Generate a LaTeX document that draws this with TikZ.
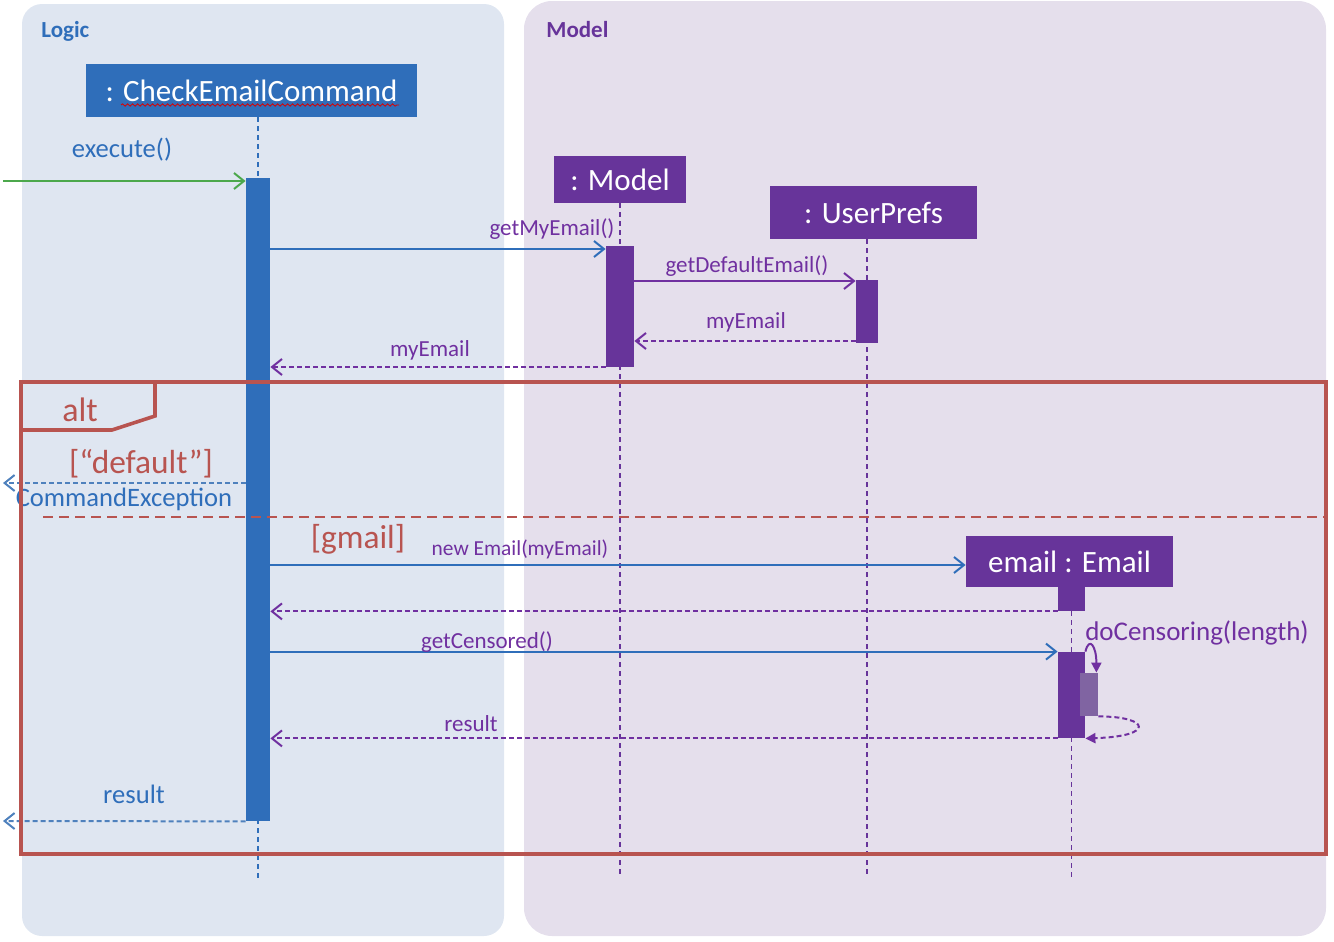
\documentclass[tikz,border=0pt]{standalone}
\usepackage{fontspec}
\setmainfont{Carlito}
\usetikzlibrary{arrows.meta,fit,backgrounds,decorations.pathmorphing}
\definecolor{logicblue}{RGB}{47,110,186}
\definecolor{modelpurple}{RGB}{103,52,154}
\definecolor{msgpurple}{RGB}{112,48,160}
\definecolor{altred}{RGB}{184,84,80}
\definecolor{logicbg}{RGB}{223,230,241}
\definecolor{modelbg}{RGB}{229,223,236}
\definecolor{foundgreen}{RGB}{76,168,76}
\definecolor{exitblue}{RGB}{79,129,189}
\definecolor{nestpurple}{RGB}{128,100,162}
\begin{document}
\begin{tikzpicture}[
		x=0.5pt, y=-0.5pt,
		obj/.style={
				fill=#1,
				text=white,
				inner sep=0,
				font=\fontsize{15.5}{18}\selectfont
			},
		act/.style={fill=#1, inner sep=0},
		life/.style={draw=#1, line width=0.9pt, dash pattern=on 2.5pt off 2pt},
		call/.style={draw=#1, line width=1pt, -{Straight Barb[length=5pt,width=8pt]}},
		ret/.style={call=#1, dash pattern=on 2.5pt off 1.5pt},
		msg/.style={text=msgpurple, font=\fontsize{11.5}{13}\selectfont},
		bmsg/.style={text=logicblue, font=\fontsize{13.3}{15}\selectfont},
		guard/.style={text=altred, font=\fontsize{16.7}{19}\selectfont},
		pkg/.style={text=#1, anchor=west, inner sep=0, font=\bfseries\fontsize{11.5}{13}\selectfont}
	]
	\useasboundingbox (0,0) rectangle (1334,942);

	% objects
	\node[obj=logicblue, minimum width=165.5pt, minimum height=26.5pt] (cmd) at (251.5,90.5) {: CheckEmailCommand};
	\node[obj=modelpurple, minimum width=66pt, minimum height=23.5pt] (model) at (620,179.5) {: Model};
	\node[obj=modelpurple, minimum width=103.5pt, minimum height=26.5pt] (prefs) at (873.5,212.5) {: UserPrefs};
	\node[obj=modelpurple, minimum width=103.5pt, minimum height=25.5pt] (email) at (1069.5,561.5) {email : Email};
	\draw[red!85!black, line width=0.4pt, decorate, decoration={snake, amplitude=0.6pt, segment length=2.5pt}]
		(121,105) -- (399,105);

	% activations
	\node[act=logicblue, fit={(246,178) (270,821)}] (cmdact) {};
	\node[act=modelpurple, fit={(606,246) (634,367)}] (modelact) {};
	\node[act=modelpurple, fit={(856,280) (878,343)}] (prefsact) {};
	\node[act=modelpurple, fit={(1058,587) (1085,611)}] (estub) {};
	\node[act=modelpurple, fit={(1058,652) (1085,738)}] (emailact) {};
	\node[act=nestpurple, fit={(1080,673) (1098,716)}] (censact) {};

	\begin{scope}[on background layer]
		\fill[logicbg, rounded corners=10pt] (22,4) rectangle (504,936);
		\fill[modelbg, rounded corners=14pt] (524,1) rectangle (1326,936);
		\draw[life=logicblue] (cmd.south -| cmdact) -- (cmdact |- 0,878);
		\draw[life=modelpurple] (model.south -| modelact) -- (modelact |- 0,878);
		\draw[life=modelpurple] (prefs.south -| prefsact) -- (prefsact |- 0,878);
		\draw[life=modelpurple] (estub.south) -- (estub |- 0,878);
	\end{scope}

	\node[pkg=logicblue] (logic) at (41,31) {Logic};
	\node[pkg=modelpurple] (modelpkg) at (546,30) {Model};

	% messages
	\coordinate (found) at (3,181);
	\coordinate (thrown) at (3,483);
	\coordinate (back) at (3,821);
	\draw[call=foundgreen] (found) -- (found -| cmdact.west);
	\node[bmsg] (lexec) at (122,150) {execute()};

	\draw[call=logicblue] (cmdact.east |- 0,249) -- (modelact.west |- 0,249);
	\node[msg] (lgetmy) at (552,229) {getMyEmail()};
	\draw[call=msgpurple] (modelact.east |- 0,281) -- (prefsact.west |- 0,281);
	\node[msg] (lgetdef) at (747,266) {getDefaultEmail()};
	\draw[ret=msgpurple] (prefsact.west |- 0,341) -- (modelact.east |- 0,341);
	\node[msg] (lmy1) at (746,322) {myEmail};
	\draw[ret=msgpurple] (modelact.west |- 0,367) -- (cmdact.east |- 0,367);
	\node[msg] (lmy2) at (430,350) {myEmail};

	\draw[ret=exitblue] (cmdact.west |- thrown) -- (thrown);
	\node[guard] (ldef) at (141,464) {[“default”]};
	\node[bmsg] (lexc) at (124,499) {CommandException};

	\node[guard] (lgmail) at (358,539) {[gmail]};
	\draw[call=logicblue] (cmdact.east |- 0,565) -- (email.west |- 0,565);
	\node[msg, font=\fontsize{10.7}{13}\selectfont] (lnew) at (520,549) {new Email(myEmail)};
	\draw[ret=msgpurple] (estub.south west) -- (estub.south west -| cmdact.east);

	\draw[call=logicblue] (cmdact.east |- emailact.north) -- (emailact.north west);
	\node[msg] (lcens) at (487,642) {getCensored()};
	\draw[msgpurple, line width=1pt, -{Triangle[length=5pt,width=5pt]}]
		(emailact.north east) .. controls +(4,-16) and +(0,-26) .. ([xshift=-1pt]censact.north east);
	\node[msg, font=\fontsize{13.5}{15}\selectfont] (ldocens) at (1197,633) {doCensoring(length)};
	\draw[msgpurple, line width=1pt, dash pattern=on 2.5pt off 1.5pt, -{Triangle[length=5pt,width=5pt]}]
		(censact.south east) .. controls +(52,0) and +(70,-2) .. (emailact.south east);
	\draw[ret=msgpurple] (emailact.south west) -- (emailact.south west -| cmdact.east);
	\node[msg] (lres1) at (471,724) {result};

	\draw[ret=exitblue] (cmdact.south west) -- (back);
	\node[bmsg] (lres2) at (134,794) {result};

	% alt frame
	\draw[altred, line width=1.8pt] (21,382) rectangle (1326,854);
	\draw[altred, line width=1.8pt] (155,382) -- (155,416) -- (112,430) -- (21,430);
	\node[guard, font=\fontsize{17}{19}\selectfont] (lalt) at (80,410) {alt};
	\draw[altred, line width=0.9pt, dash pattern=on 5pt off 3pt] (43,517) -- (1326,517);
\end{tikzpicture}
\end{document}
